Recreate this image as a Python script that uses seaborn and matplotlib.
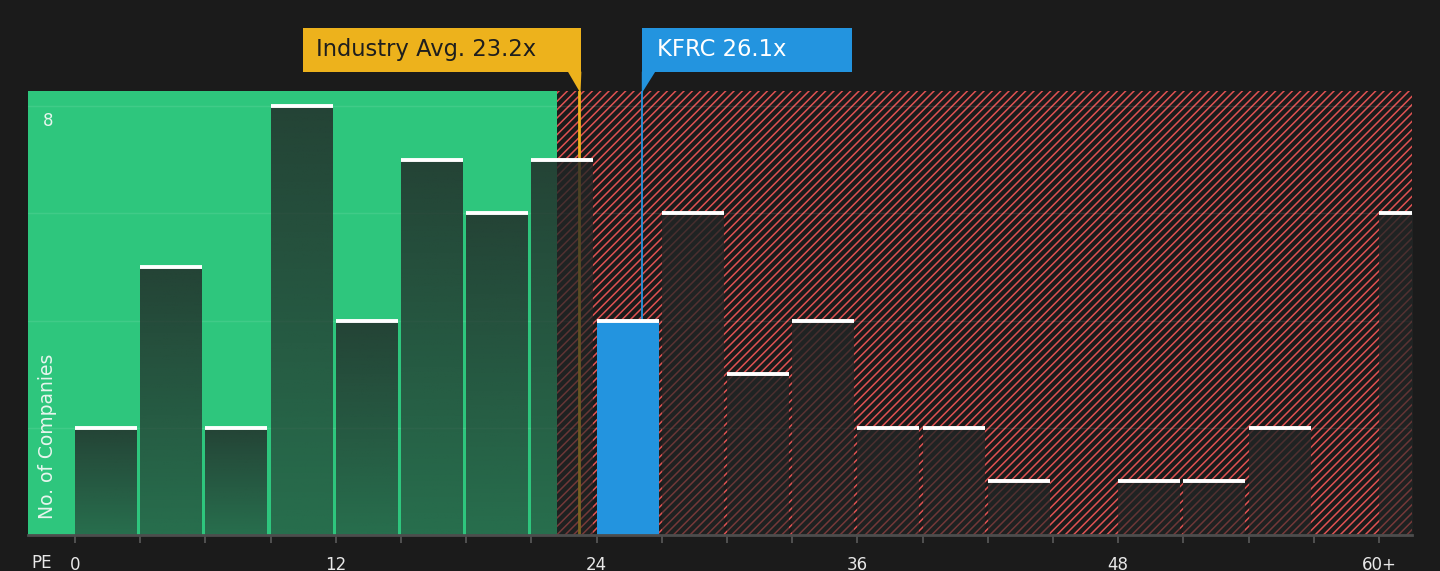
import numpy as np
import seaborn as sns
import matplotlib.pyplot as plt
from matplotlib.patches import Rectangle, Polygon
import matplotlib.transforms as mtransforms

# PE bins (start of each 3x wide bin) and number of companies in each
bin_starts = [0, 3, 6, 9, 12, 15, 18, 21, 24, 27, 30, 33, 36, 39, 42, 45, 48, 51, 54, 57, 60]
company_counts = [2, 5, 2, 8, 4, 7, 6, 7, 4, 6, 3, 4, 2, 2, 1, 0, 1, 1, 2, 0, 6]

tick_values = [0, 12, 24, 36, 48, 60]
tick_labels = ['0', '12', '24', '36', '48', '60+']

industry_avg = 23.2
company_pe = 26.1
company_name = 'KFRC'
fair_limit = 22.2

BG = '#1b1b1b'
GREEN = '#2ec67d'
RED = '#e05252'
YELLOW = '#edb21c'
BLUE = '#2394df'

sns.set_theme(style='dark')
plt.rcParams['font.family'] = ['DejaVu Sans']
plt.rcParams['hatch.linewidth'] = 1.1
plt.rcParams['hatch.color'] = RED

fig = plt.figure(figsize=(14.4, 5.71), dpi=100, facecolor=BG)
ax = fig.add_axes([28 / 1440, 36 / 571, 1384 / 1440, 444 / 571])
ax.set_facecolor(BG)

# bars start on the bin edge and leave a small gap before the next bin
bin_centers = [b + 1.425 for b in bin_starts]
sns.barplot(x=bin_centers, y=company_counts, native_scale=True, width=0.95,
            color='#222222', errorbar=None, ax=ax)

# value zones
ax.axvspan(-5, fair_limit, color=GREEN, lw=0, zorder=0)
ax.axvspan(fair_limit, 70, facecolor='none', edgecolor=RED, hatch='////', lw=0, zorder=0)

ax.set_axisbelow(True)
ax.yaxis.grid(True, color='white', alpha=0.09, lw=1)
ax.xaxis.grid(False)

ax.axvline(industry_avg, ymin=0, ymax=1, color=YELLOW, lw=2, zorder=1)
ax.axvline(company_pe, ymin=0, ymax=1, color=BLUE, lw=1.3, zorder=1)

# bars: dark vertical gradient, company bin in blue, white cap on top
dark = np.array([34, 38, 38]) / 255
for p, start in zip(ax.containers[0], bin_starts):
    x0, w, h = p.get_x(), p.get_width(), p.get_height()
    if h <= 0:
        p.set_visible(False)
        continue
    if start <= company_pe < start + 3:
        p.set_facecolor(BLUE)
        p.set_edgecolor('none')
        p.set_zorder(2)
    else:
        p.set_facecolor('none')
        p.set_edgecolor('none')
        grad = np.zeros((128, 1, 4))
        grad[..., :3] = dark
        grad[:, 0, 3] = np.linspace(0.55, 0.82, 128)
        ax.imshow(grad, extent=[x0, x0 + w, 0, h], origin='lower', aspect='auto',
                  interpolation='bilinear', zorder=2)
    ax.hlines(h, x0, x0 + w, colors='white', lw=2.8, zorder=4)

ax.set_xlim(-2.163, 61.52)
ax.set_ylim(0, 8.28)

ax.set_xticks(tick_values)
ax.set_xticklabels(tick_labels)
ax.set_xticks(np.arange(0, 61, 3), minor=True)
ax.set_yticks([2, 4, 6, 8])
ax.set_yticklabels([])
ax.tick_params(axis='y', length=0)
ax.tick_params(axis='x', which='both', bottom=True, length=6, width=1.3,
               color='#555555', labelcolor='#e8e8e8', labelsize=12, pad=9)
ax.set_xlabel('')
ax.set_ylabel('')

for side in ['top', 'left', 'right']:
    ax.spines[side].set_visible(False)
ax.spines['bottom'].set_color('#4d4d4d')
ax.spines['bottom'].set_linewidth(2)

trans = mtransforms.blended_transform_factory(ax.transData, ax.transAxes)
ax.text(-1.52, -0.063, 'PE', transform=trans, ha='center', va='center',
        fontsize=12, color='#e8e8e8')
ax.text(-1.24, 7.72, '8', ha='center', va='center', fontsize=12, color='#e8f5ee')
ax.text(-1.28, 0.3, 'No. of Companies', rotation=90, ha='center', va='bottom',
        fontsize=13.5, color='#e8f5ee')

# callout boxes
box_y0, box_h, tip_y = 1.0435, 0.0977, 0.995
avg_left = industry_avg + 0.1 - 12.83
ax.add_patch(Rectangle((avg_left, box_y0), 12.83, box_h, transform=trans,
                       facecolor=YELLOW, edgecolor='none', clip_on=False, zorder=5))
ax.add_patch(Polygon([(industry_avg - 0.52, box_y0), (industry_avg + 0.1, box_y0),
                      (industry_avg + 0.06, tip_y)], closed=True, transform=trans,
                     facecolor=YELLOW, edgecolor='none', clip_on=False, zorder=5))
ax.text(avg_left + 0.61, box_y0 + box_h / 2, f'Industry Avg. {industry_avg:.1f}x',
        transform=trans, ha='left', va='center', fontsize=16.3, color='#1e1e1e', zorder=6)

ax.add_patch(Rectangle((company_pe - 0.02, box_y0), 9.66, box_h, transform=trans,
                       facecolor=BLUE, edgecolor='none', clip_on=False, zorder=5))
ax.add_patch(Polygon([(company_pe - 0.02, box_y0), (company_pe + 0.6, box_y0),
                      (company_pe - 0.02, tip_y)], closed=True, transform=trans,
                     facecolor=BLUE, edgecolor='none', clip_on=False, zorder=5))
ax.text(company_pe + 0.67, box_y0 + box_h / 2, f'{company_name} {company_pe:.1f}x',
        transform=trans, ha='left', va='center', fontsize=16.3, color='white', zorder=6)

fig.savefig('out.png', dpi=100, facecolor=BG)
